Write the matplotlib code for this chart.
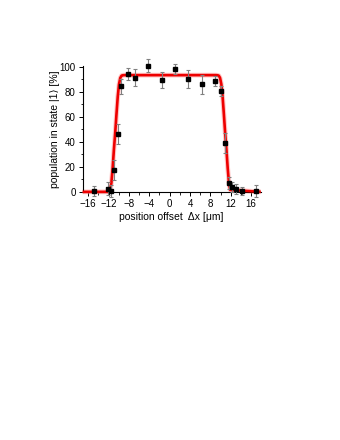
import numpy as np
import matplotlib
matplotlib.use("Agg")
import matplotlib.pyplot as plt
from matplotlib.ticker import MultipleLocator

plt.rcParams['font.family'] = ['Liberation Sans', 'DejaVu Sans']

# measured points
x_data = [-14.8, -12.1, -11.6, -10.9, -10.1, -9.5, -8.2, -6.8, -4.2, -1.55, 1.06,
          3.7, 6.35, 9.0, 10.0, 10.9, 11.65, 12.3, 13.0, 14.3, 17.0]
y_data = [0.5, 2.6, 0.5, 17.7, 46.0, 84.4, 94.2, 91.3, 100.8, 89.4, 97.9,
          90.0, 86.0, 88.4, 80.4, 39.2, 7.1, 4.0, 2.1, 0.5, 0.5]
y_err = [4.0, 5.0, 5.0, 8.0, 8.0, 6.0, 4.5, 7.0, 5.0, 6.5, 4.0,
         7.0, 7.5, 4.0, 4.0, 8.0, 5.0, 4.0, 4.0, 3.0, 5.0]

# fit curve
x_fit = [-17.1, -12.0, -11.7, -11.45, -11.2, -10.95, -10.7, -10.45, -10.2, -9.95,
         -9.7, -9.45, -9.2, -8.9, -8.5,
         8.7, 9.1, 9.4, 9.65, 9.9, 10.15, 10.4, 10.65, 10.9, 11.15, 11.4, 11.65, 11.9, 17.9]
y_fit = [0.0, 0.0, 1.5, 7.0, 19.0, 34.0, 47.0, 62.0, 76.0, 86.0,
         91.0, 92.8, 93.1, 93.2, 93.2,
         93.2, 93.2, 93.1, 92.8, 91.0, 86.0, 76.0, 62.0, 47.0, 34.0, 19.0, 7.0, 1.5, 0.0]

fig = plt.figure(figsize=(3.4, 4.4), dpi=100)
ax = fig.add_axes([0.243, 0.564, 0.524, 0.286])

ax.plot(x_fit, y_fit, color='#ff9999', lw=3.4, alpha=0.55, zorder=2, clip_on=False,
        solid_capstyle='butt')
ax.plot(x_fit, y_fit, color='#ee0000', lw=1.9, zorder=3, clip_on=False,
        solid_capstyle='butt')
ax.errorbar(x_data, y_data, yerr=y_err, fmt='s', color='black', ms=3.0,
            ecolor='#808080', elinewidth=0.8, capsize=1.6, capthick=0.8,
            zorder=4, clip_on=False)

ax.set_xlim(-17.1, 17.9)
ax.set_ylim(0, 100.5)
ax.xaxis.set_major_locator(MultipleLocator(4))
ax.xaxis.set_minor_locator(MultipleLocator(2))
ax.yaxis.set_major_locator(MultipleLocator(20))
ax.yaxis.set_minor_locator(MultipleLocator(10))
ax.spines['top'].set_visible(False)
ax.spines['right'].set_visible(False)
for s in ('left', 'bottom'):
    ax.spines[s].set_linewidth(0.8)
ax.tick_params(which='major', direction='out', length=3, width=0.7, labelsize=7, pad=2)
ax.tick_params(which='minor', direction='out', length=1.8, width=0.6)

ax.set_xlabel('position offset  Δx [μm]', fontsize=7.5, labelpad=2)
ax.set_ylabel('population in state |1⟩ [%]', fontsize=7.5, labelpad=0)

fig.savefig('out.png', dpi=100)
